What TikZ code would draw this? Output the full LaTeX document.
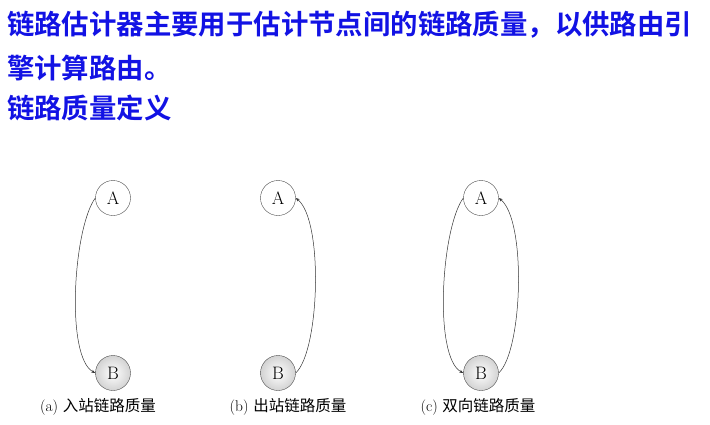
\documentclass[tikz,border=0pt]{standalone}
\usepackage{fontspec}
\usetikzlibrary{arrows.meta}
\newfontfamily\cjk{Noto Sans CJK SC}[BoldFont={Noto Sans CJK SC Bold}]
\definecolor{titleblue}{RGB}{18,18,228}
\tikzset{
  station/.style={draw=black!70,circle,minimum size=35pt,inner sep=0pt,font=\fontsize{18}{20}\selectfont},
  source/.style={station,fill=white},
  target/.style={station,inner color=white,outer color=gray!35},
  link/.style={draw=black!80,line width=0.5pt,-{Stealth[length=4pt,width=3pt]}},
  heading/.style={anchor=west,inner sep=0pt,text=titleblue,font=\cjk\bfseries\fontsize{27.4}{30}\selectfont},
  caption/.style={font=\fontsize{15.5}{18}\selectfont}
}
\begin{document}
\begin{tikzpicture}[x=1pt,y=-1pt]
  \useasboundingbox (0,0) rectangle (710,424);
  \node[heading] (t1) at (7,25) {链路估计器主要用于估计节点间的链路质量，以供路由引};
  \node[heading] (t2) at (7,68) {擎计算路由。};
  \node[heading] (t3) at (7,108) {链路质量定义};
  % (a)
  \node[source] (A1) at (113,198) {A};
  \node[target] (B1) at (113,373) {B};
  \draw[link] (A1.west) .. controls +(-22,30) and +(-30,-16) .. (B1.west);
  \node[caption] (c1) at (98,407) {(a) {\cjk 入站链路质量}};
  % (b)
  \node[source] (A2) at (278,198) {A};
  \node[target] (B2) at (278,373) {B};
  \draw[link] (B2.east) .. controls +(24,-22) and +(28,22) .. (A2.east);
  \node[caption] (c2) at (288,407) {(b) {\cjk 出站链路质量}};
  % (c)
  \node[source] (A3) at (481,198) {A};
  \node[target] (B3) at (481,373) {B};
  \draw[link] (A3.west) .. controls +(-22,30) and +(-30,-16) .. (B3.west);
  \draw[link] (B3.east) .. controls +(24,-22) and +(28,22) .. (A3.east);
  \node[caption] (c3) at (478,407) {(c) {\cjk 双向链路质量}};
\end{tikzpicture}
\end{document}
